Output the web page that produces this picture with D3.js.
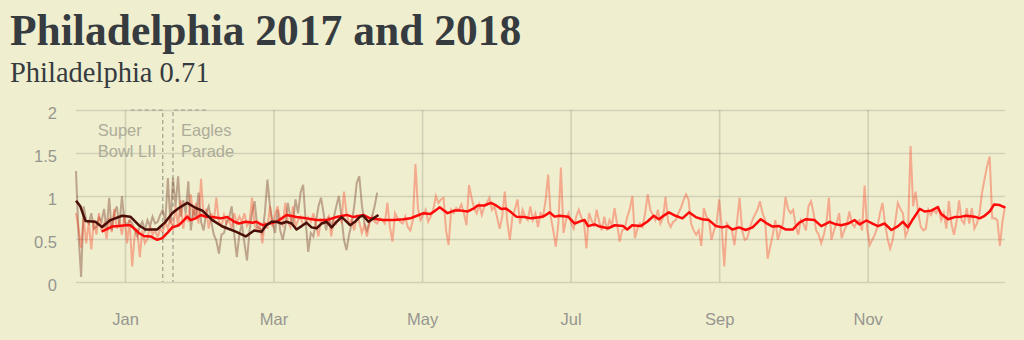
<!DOCTYPE html>
<html>
<head>
<meta charset="utf-8">
<script src="https://cdn.jsdelivr.net/npm/d3@7"></script>
<style>
  html, body { margin: 0; padding: 0; background: #efeecf; }
  svg { display: block; }
</style>
</head>
<body>
<svg id="chart" width="1024" height="340"></svg>
<script>
// ---------------- DATA ----------------
const titleText = "Philadelphia 2017 and 2018";
const subtitleText = "Philadelphia 0.71";

const yTicks = [0, 0.5, 1, 1.5, 2];
const yTickLabels = ["0", "0.5", "1", "1.5", "2"];

// day index positions of the month tick labels
const tickDays = [19.2, 77.4, 135.6, 193.8, 252, 310.2];
const tickLabels = ["Jan", "Mar", "May", "Jul", "Sep", "Nov"];

// daily values, 2017 (index = day)
const values2017 = [
  0.80,0.62,0.40,0.75,0.45,0.70,0.38,0.72,0.55,0.80,
  0.60,0.68,0.50,0.75,0.58,0.85,0.62,0.70,0.55,0.78,
  0.45,0.72,0.18,0.55,0.62,0.29,0.60,0.45,0.50,0.65,
  0.55,0.60,0.52,0.62,0.58,0.70,0.62,0.75,0.60,0.88,
  0.65,0.95,0.62,0.80,0.70,1.02,0.72,0.92,0.68,1.20,
  0.75,0.85,0.62,0.80,0.70,0.98,0.70,0.65,0.78,0.68,
  0.72,0.62,0.80,0.68,0.76,0.70,0.80,0.65,0.70,0.98,
  0.66,0.60,0.68,0.45,0.70,0.62,0.88,0.64,0.78,0.88,
  0.72,0.66,0.92,0.70,0.64,0.88,0.64,0.72,0.76,0.66,
  0.68,0.75,0.70,0.80,0.66,0.53,0.72,0.68,0.70,0.76,
  0.53,0.72,0.68,0.75,0.70,1.05,0.80,0.68,0.72,0.60,
  0.76,0.70,0.57,0.66,0.53,0.68,0.76,0.70,0.68,0.74,
  0.72,0.68,0.92,0.64,0.47,0.80,0.74,0.70,0.68,0.76,
  0.64,0.60,0.72,1.37,0.85,0.72,0.78,0.84,0.70,0.76,
  0.84,1.00,0.92,0.96,0.98,0.60,0.43,0.84,0.80,0.86,
  0.84,0.90,0.80,0.66,1.13,0.98,0.86,0.80,0.90,0.78,
  0.88,0.92,0.98,0.84,0.88,0.75,0.62,0.76,1.05,0.70,
  0.49,0.76,0.85,0.96,0.68,0.84,0.76,0.72,0.88,0.72,
  0.80,0.64,0.80,0.76,0.95,1.25,0.76,0.60,0.41,0.68,
  1.33,0.57,0.72,0.80,0.68,0.62,0.76,0.84,0.75,0.70,
  0.39,0.80,0.72,0.64,0.84,0.70,0.60,0.76,0.60,0.72,
  0.66,0.86,0.68,0.47,0.60,0.62,0.76,0.85,1.00,0.51,
  0.62,0.68,0.64,0.80,1.02,0.84,0.78,0.72,0.84,0.68,
  0.75,0.99,0.70,0.64,0.70,0.72,0.80,0.86,0.95,1.02,
  0.96,0.68,0.60,0.55,0.60,0.42,0.86,0.76,0.72,0.49,
  0.60,0.68,0.96,0.64,0.18,0.68,0.64,0.60,0.43,0.70,
  0.98,0.60,0.49,0.51,0.62,0.72,0.78,0.84,0.94,0.80,
  0.72,0.27,0.41,0.55,0.72,0.49,0.60,0.68,0.99,0.85,
  0.80,0.84,0.65,0.55,0.72,0.68,0.60,0.88,0.94,0.80,
  0.60,0.55,0.45,0.55,0.68,0.98,0.49,0.60,0.68,0.80,
  0.51,0.60,0.66,0.82,0.68,0.64,0.70,0.72,0.60,1.12,
  0.62,0.43,0.49,0.55,0.64,0.80,0.92,0.68,0.50,0.39,
  0.49,0.70,0.92,0.85,0.80,0.53,0.60,1.58,0.88,1.05,
  0.80,0.64,0.60,0.62,0.84,0.78,0.84,0.80,0.86,0.72,
  0.80,0.62,0.94,0.68,0.55,0.70,0.95,0.72,0.68,0.86,
  0.68,0.86,0.62,0.68,0.80,1.04,1.20,1.35,1.46,0.74,
  0.74,0.72,0.42,0.70,0.88
];

// daily values, 2018 (index = day)
const values2018 = [
  1.29,0.55,0.06,0.88,0.72,0.68,0.80,0.62,0.64,0.75,
  0.70,0.85,0.60,0.98,0.60,0.80,0.88,0.65,1.00,0.70,
  0.66,0.72,0.68,0.60,0.53,0.65,0.70,0.60,0.72,0.65,
  0.76,0.68,0.70,0.78,0.84,0.70,1.21,0.68,1.21,0.88,
  1.23,0.76,0.95,0.80,1.17,0.60,0.85,0.75,1.04,0.70,
  0.60,0.80,0.88,0.70,0.55,0.48,0.33,0.55,0.57,0.70,
  0.75,0.88,0.55,0.29,0.55,0.68,0.45,0.25,0.60,0.80,
  0.94,0.64,0.62,0.57,0.80,1.19,0.88,0.70,0.57,0.84,
  0.60,0.49,0.64,0.92,0.75,0.68,0.96,0.80,1.04,1.13,
  0.70,0.35,0.57,0.53,0.70,0.88,0.98,0.80,0.60,0.76,
  0.64,0.75,0.88,1.00,0.76,0.49,0.37,0.55,0.68,0.88,
  1.15,1.23,0.90,0.68,0.60,0.70,0.76,0.88,1.04
];

// moving average 2017: [day, value]
const ma2017 = [
  [10,0.585],[11.5,0.605],[14.1,0.645],[16.8,0.65],[19.4,0.66],[21.3,0.66],[22.7,0.625],[24.6,0.57],
  [26.6,0.535],[29.2,0.53],[31.8,0.49],[33.8,0.51],[35.8,0.57],[37.7,0.635],[40.3,0.66],[42.3,0.72],
  [43.6,0.76],[44.9,0.72],[46.9,0.74],[48.9,0.78],[50.8,0.76],[53.4,0.755],[56.7,0.74],[59.3,0.755],
  [62,0.70],[63.9,0.68],[66.5,0.70],[69.2,0.69],[70.7,0.70],[73.3,0.66],[75.9,0.68],[78.6,0.70],
  [82.5,0.78],[86.4,0.755],[90.3,0.74],[94.3,0.72],[98.2,0.72],[102.1,0.755],[106.1,0.78],[108.7,0.755],
  [112.6,0.78],[115.2,0.74],[117.9,0.73],[120.5,0.72],[124.4,0.72],[128.3,0.73],[131,0.74],[133.6,0.77],
  [136.2,0.80],[138.8,0.79],[140.8,0.83],[142.5,0.87],[145.6,0.80],[148.2,0.83],[150.9,0.83],[153.5,0.82],
  [156.1,0.86],[157.4,0.89],[160,0.89],[162.6,0.92],[164.6,0.89],[166.6,0.85],[168.5,0.855],[170.5,0.81],
  [172.5,0.76],[175.7,0.755],[178.4,0.74],[182.3,0.755],[183.6,0.77],[185.6,0.81],[187.5,0.76],[189.5,0.77],
  [192.8,0.76],[195.4,0.68],[198,0.71],[199.3,0.72],[200.6,0.65],[203.2,0.67],[205.2,0.645],[208.5,0.625],
  [211.1,0.66],[214.4,0.65],[216,0.61],[217.9,0.66],[221.2,0.65],[223.8,0.70],[226.4,0.77],[228.4,0.73],
  [229.7,0.76],[232.3,0.81],[234.9,0.77],[237.6,0.74],[240.2,0.81],[242.8,0.755],[245.4,0.73],[248,0.72],
  [250.7,0.65],[253.3,0.635],[255.2,0.65],[257.2,0.61],[259.8,0.635],[262.4,0.605],[265.1,0.635],[268.3,0.73],
  [271,0.675],[272.9,0.645],[275.5,0.65],[278.2,0.61],[280.8,0.61],[283.4,0.69],[286,0.73],[289.4,0.72],
  [292,0.65],[295.3,0.70],[297.2,0.675],[299.9,0.66],[302.5,0.68],[305.1,0.72],[307,0.67],[309.7,0.715],
  [312.3,0.675],[314.2,0.65],[316.8,0.68],[319.5,0.605],[322.1,0.65],[324,0.70],[326,0.635],[327.9,0.73],
  [330.6,0.85],[332.5,0.82],[335.1,0.83],[337.7,0.87],[339,0.79],[341.7,0.73],[344.3,0.755],[346.9,0.76],
  [348.8,0.77],[352.1,0.76],[354.1,0.74],[356,0.77],[358,0.82],[359.7,0.90],[361.9,0.895],[363.6,0.87],[364,0.88]
];

// moving average 2018: [day, value]
const ma2018 = [
  [0,0.945],[1.7,0.88],[3.7,0.71],[7.6,0.70],[10.2,0.64],[13.5,0.72],[18.1,0.77],[21.3,0.76],
  [24.6,0.66],[27.2,0.61],[31.8,0.61],[35.1,0.70],[37.7,0.80],[40.3,0.86],[43.6,0.92],[46.9,0.86],
  [49.5,0.83],[53.4,0.72],[57.4,0.645],[62.6,0.585],[66.5,0.53],[69.8,0.60],[72.7,0.585],[74.6,0.66],
  [76.6,0.70],[78.6,0.70],[80.5,0.68],[82.5,0.70],[84.5,0.68],[86.4,0.61],[88.4,0.65],[90.3,0.69],
  [92.3,0.635],[94.3,0.625],[96.2,0.68],[98.2,0.70],[100.2,0.635],[102.1,0.70],[104.1,0.755],[105.4,0.72],
  [107.4,0.66],[109.3,0.70],[111.3,0.76],[112.6,0.77],[114.6,0.70],[116.5,0.74],[118.5,0.78]
];

// annotations
const annotations = [
  { day: 34, lines: ["Super", "Bowl LII"], side: "left" },
  { day: 38, lines: ["Eagles", "Parade"], side: "right" }
];

// ---------------- DRAW ----------------
const svg = d3.select("#chart");
const W = 1024, H = 340;
const m = { left: 76, right: 19, top: 110, bottom: 58 };
const iw = W - m.left - m.right;
const ih = H - m.top - m.bottom;

const x = d3.scaleLinear().domain([0, 364]).range([m.left, m.left + iw]);
const y = d3.scaleLinear().domain([0, 2]).range([m.top + ih, m.top]);

const serif = "'Palatino Linotype', Palatino, 'Book Antiqua', 'Liberation Serif', serif";
svg.append("text")
  .attr("x", 10).attr("y", 45)
  .attr("font-family", serif)
  .attr("font-weight", "bold")
  .attr("font-size", 43.5)
  .attr("fill", "#363b3f")
  .text(titleText);

svg.append("text")
  .attr("x", 10).attr("y", 82)
  .attr("font-family", serif)
  .attr("font-size", 28.5)
  .attr("fill", "#363b3f")
  .text(subtitleText);

const axisFont = "'Liberation Sans', Arial, sans-serif";

// y axis + horizontal grid
const yAxis = svg.append("g")
  .attr("transform", `translate(${m.left},0)`)
  .call(d3.axisLeft(y).tickValues(yTicks)
    .tickFormat((d, i) => yTickLabels[i])
    .tickSize(-iw).tickPadding(19));
yAxis.select(".domain").remove();
yAxis.selectAll(".tick line").attr("stroke", "#000").attr("stroke-opacity", 0.12).attr("stroke-width", 1.6);
yAxis.selectAll(".tick text").attr("fill", "#96968f").attr("font-size", 16.5)
  .attr("font-family", axisFont).attr("dy", "0.5em");

// x axis + vertical grid
const xAxis = svg.append("g")
  .attr("transform", `translate(0,${m.top + ih})`)
  .call(d3.axisBottom(x).tickValues(tickDays)
    .tickFormat((d, i) => tickLabels[i])
    .tickSize(-ih).tickPadding(31));
xAxis.select(".domain").remove();
xAxis.selectAll(".tick line").attr("stroke", "#000").attr("stroke-opacity", 0.12).attr("stroke-width", 1.6);
xAxis.selectAll(".tick text").attr("fill", "#96968f").attr("font-size", 16.5)
  .attr("font-family", axisFont);

// annotations
const ann = svg.append("g");
annotations.forEach(a => {
  const ax = x(a.day);
  const hx = a.side === "left" ? ax - 32 : ax + 33;
  ann.append("path")
    .attr("d", `M${hx},${y(2)}H${ax}V${y(0)}`)
    .attr("fill", "none")
    .attr("stroke", "#8a8a80")
    .attr("stroke-opacity", 0.8)
    .attr("stroke-width", 1.2)
    .attr("stroke-dasharray", "4,3");
  const tx = a.side === "left" ? ax - 65 : ax + 8;
  a.lines.forEach((ln, i) => {
    ann.append("text")
      .attr("x", tx).attr("y", y(2) + 26 + i * 21)
      .attr("font-family", axisFont)
      .attr("font-size", 16.5)
      .attr("fill", "#adac99")
      .text(ln);
  });
});

const lineIdx = d3.line().x((d, i) => x(i)).y(d => y(d));
const linePair = d3.line().x(d => x(d[0])).y(d => y(d[1]));

svg.append("path").datum(values2018)
  .attr("d", lineIdx).attr("fill", "none")
  .attr("stroke", "#6b2e1a").attr("stroke-opacity", 0.38).attr("stroke-width", 2);

svg.append("path").datum(values2017)
  .attr("d", lineIdx).attr("fill", "none")
  .attr("stroke", "#ff2a10").attr("stroke-opacity", 0.35).attr("stroke-width", 2);

svg.append("path").datum(ma2017)
  .attr("d", linePair).attr("fill", "none")
  .attr("stroke", "#ff0a0a").attr("stroke-width", 2.5).attr("stroke-linejoin", "round");

svg.append("path").datum(ma2018)
  .attr("d", linePair).attr("fill", "none")
  .attr("stroke", "#4a0e08").attr("stroke-width", 2.5).attr("stroke-linejoin", "round");
</script>
</body>
</html>
